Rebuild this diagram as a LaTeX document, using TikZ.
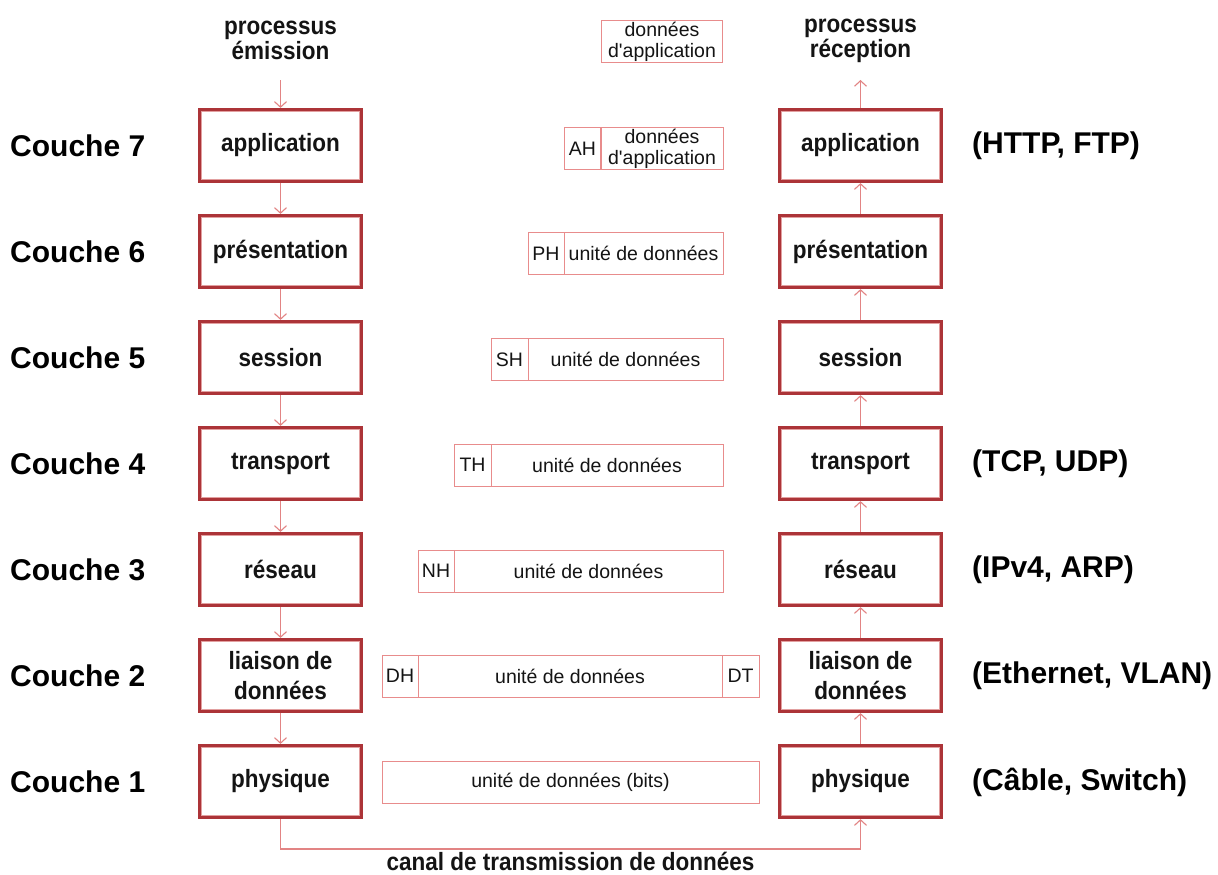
\documentclass[tikz,border=0pt]{standalone}
\usepackage{fontspec}
\setmainfont{Liberation Sans}
\usetikzlibrary{arrows.meta,calc}
\definecolor{boxred}{RGB}{172,52,56}
\definecolor{innerred}{RGB}{226,160,160}
\definecolor{arrred}{RGB}{226,132,132}
\definecolor{cellred}{RGB}{232,140,140}
\definecolor{txt}{RGB}{20,20,20}
\newcommand\cnd[1]{\scalebox{0.9}[1]{#1}}
\begin{document}
\begin{tikzpicture}[x=1pt,y=-1pt,
  layer/.style={draw=boxred, line width=3.2pt, minimum width=162pt, minimum height=72pt,
    inner sep=0pt, align=center, fill=white, text=txt,
    font=\fontsize{25}{30}\selectfont\bfseries},
  hdr/.style={align=center, inner sep=0pt, text=txt, font=\fontsize{25}{25}\selectfont\bfseries},
  lab/.style={anchor=west, inner sep=0pt, text=black, font=\fontsize{30}{34}\selectfont\bfseries},
  cell/.style={draw=cellred, line width=1pt, minimum height=42pt, inner sep=0pt, align=center,
    text=txt, font=\fontsize{19.5}{21}\selectfont},
  conn/.style={draw=arrred, line width=1.1pt, -{Straight Barb[length=5.5pt,width=12pt]}},
  innerline/.style={draw=innerred, line width=0.7pt}
]
\useasboundingbox[fill=white] (0,0) rectangle (1218,875);

% headers
\node[hdr] (hl) at (280.5,40.5) {\cnd{processus}\\\cnd{émission}};
\node[hdr] (hr) at (860.5,40.5) {\cnd{processus}\\\cnd{réception}};
\coordinate (hlb) at (280.5,80);
\coordinate (hrb) at (860.5,80);

% layer boxes
\foreach \n/\t/\y in {7/\cnd{application}/145.5, 6/\cnd{présentation}/251.5, 5/\cnd{session}/357.5,
  4/\cnd{transport}/463.5, 3/\cnd{réseau}/569.5, 2/{\cnd{liaison de}\\\cnd{données}}/675.5, 1/\cnd{physique}/781.5}{
  \node[layer] (l\n) at (280.5,\y) {\t};
  \node[layer] (r\n) at (860.5,\y) {\t};
  \draw[innerline] ([shift={(3.4pt,3.4pt)}]l\n.south west) rectangle ([shift={(-3.4pt,-3.4pt)}]l\n.north east);
  \draw[innerline] ([shift={(3.4pt,3.4pt)}]r\n.south west) rectangle ([shift={(-3.4pt,-3.4pt)}]r\n.north east);
}

% layer labels
\node[lab] (c7) at (10,146) {Couche 7};
\node[lab] (c6) at (10,252) {Couche 6};
\node[lab] (c5) at (10,358) {Couche 5};
\node[lab] (c4) at (10,464) {Couche 4};
\node[lab] (c3) at (10,570) {Couche 3};
\node[lab] (c2) at (10,676) {Couche 2};
\node[lab] (c1) at (10,782) {Couche 1};

\node[lab] (p7) at (972,146) {(HTTP, FTP)};
\node[lab] (p4) at (972,464) {(TCP, UDP)};
\node[lab] (p3) at (972,570) {(IPv4, ARP)};
\node[lab] (p2) at (972,676) {(Ethernet, VLAN)};
\node[lab] (p1) at (972,782) {(Câble, Switch)};

% connectors
\draw[conn] (hlb) -- (l7);
\draw[conn] (l7) -- (l6);
\draw[conn] (l6) -- (l5);
\draw[conn] (l5) -- (l4);
\draw[conn] (l4) -- (l3);
\draw[conn] (l3) -- (l2);
\draw[conn] (l2) -- (l1);
\draw[conn] (r1) -- (r2);
\draw[conn] (r2) -- (r3);
\draw[conn] (r3) -- (r4);
\draw[conn] (r4) -- (r5);
\draw[conn] (r5) -- (r6);
\draw[conn] (r6) -- (r7);
\draw[conn] (r7) -- (hrb);
\coordinate (k1) at (280.5,849);
\draw[conn] (l1.south) -- (k1) -| (r1.south);
\node[hdr, anchor=north] (canal) at (570.5,852) {\cnd{canal de transmission de données}};

% data units
\node[cell, minimum width=121pt] (d0) at (662,42) {données\\d\textquotesingle application};

\node[cell, minimum width=36pt] (ah) at (582.5,148.5) {AH};
\node[cell, minimum width=122pt] (d7) at (662,148.5) {données\\d\textquotesingle application};

\node[cell, minimum width=36pt] (ph) at (546,253.5) {PH};
\node[cell, minimum width=159pt] (d6) at (643.5,253.5) {unité de données};

\node[cell, minimum width=37pt] (sh) at (509.5,359.5) {SH};
\node[cell, minimum width=195pt] (d5) at (625.5,359.5) {unité de données};

\node[cell, minimum width=37pt] (th) at (472.5,465) {TH};
\node[cell, minimum width=232pt] (d4) at (607,465) {unité de données};

\node[cell, minimum width=36pt] (nh) at (436,571) {NH};
\node[cell, minimum width=269pt] (d3) at (588.5,571) {unité de données};

\node[cell, minimum width=36pt] (dh) at (400,676) {DH};
\node[cell, minimum width=304pt] (d2) at (570,676) {unité de données};
\node[cell, minimum width=37pt] (dt) at (740.5,676) {DT};

\node[cell, minimum width=377pt] (d1) at (570.5,782) {unité de données (bits)};
\end{tikzpicture}
\end{document}
